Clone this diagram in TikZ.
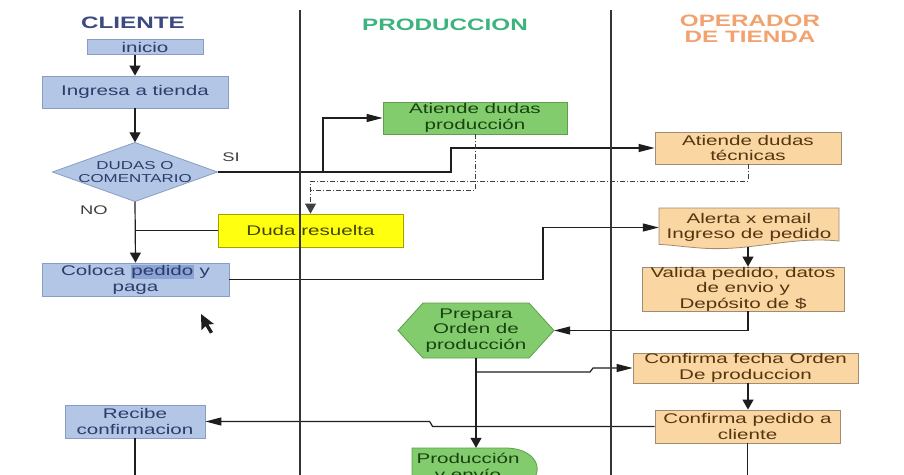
\documentclass[tikz,border=0pt]{standalone}
\usepackage{fontspec}
\setmainfont{Liberation Sans}[FakeStretch=1.47]
\usetikzlibrary{arrows.meta}

\definecolor{bfill}{HTML}{B4C6E6}
\definecolor{bedge}{HTML}{8A9CC4}
\definecolor{btext}{HTML}{2A3D6B}
\definecolor{gfill}{HTML}{82CC6E}
\definecolor{gedge}{HTML}{5E9E4E}
\definecolor{gtext}{HTML}{1A4210}
\definecolor{ofill}{HTML}{FAD6A2}
\definecolor{oedge}{HTML}{A08C72}
\definecolor{otext}{HTML}{553510}
\definecolor{yfill}{HTML}{FFFF10}
\definecolor{yedge}{HTML}{A8A000}
\definecolor{ytext}{HTML}{454500}
\definecolor{selblue}{HTML}{8CA3D6}
\definecolor{hdrblue}{HTML}{3C4A82}
\definecolor{hdrgreen}{HTML}{3DB37E}
\definecolor{hdrorange}{HTML}{F2A26E}
\definecolor{ink}{HTML}{1E1E1E}

\begin{document}
\begin{tikzpicture}[x=1pt,y=-1pt,
  line/.style={draw=ink, line width=1.2pt},
  arrv/.style={line, -{Triangle[length=10pt,width=11pt]}},
  arrh/.style={line, -{Triangle[length=16pt,width=8pt]}},
  dd/.style={draw=ink!85, line width=0.8pt, dash pattern=on 5pt off 2pt on 1pt off 2pt},
  ddarr/.style={dd, -{Triangle[length=10pt,width=11pt]}},
  lane/.style={draw=ink!90, line width=1.2pt},
  box/.style={draw, line width=0.8pt, align=center, inner sep=0pt, font=\fontsize{14}{15.5}\selectfont},
  bluebox/.style={box, fill=bfill, draw=bedge, text=btext},
  greenbox/.style={box, fill=gfill, draw=gedge, text=gtext},
  orangebox/.style={box, fill=ofill, draw=oedge, text=otext},
  yellowbox/.style={box, fill=yfill, draw=yedge, text=ytext},
  bare/.style={align=center, inner sep=0pt, font=\fontsize{14}{15.5}\selectfont},
  header/.style={align=center, inner sep=0pt, font=\fontsize{16.5}{16}\selectfont\bfseries},
  tag/.style={inner sep=0pt, text=ink!85, font=\fontsize{12.5}{13}\selectfont},
]
\useasboundingbox (0,0) rectangle (904,474);
\fill[white] (0,0) rectangle (904,474);
\clip (0,0) rectangle (904,474);

% lane titles
\node[header, text=hdrblue] (hcli) at (133,22.5) {CLIENTE};
\node[header, text=hdrgreen] (hprod) at (445,25) {PRODUCCION};
\node[header, text=hdrorange] (hop) at (750,29) {OPERADOR\\DE TIENDA};

% client lane
\node[bluebox, minimum width=116pt, minimum height=15pt] (ini) at (145,47) {inicio};
\node[bluebox, minimum width=186pt, minimum height=32pt] (ing) at (135,92) {Ingresa a tienda};

\coordinate (dudasc) at (135,172);
\filldraw[fill=bfill, draw=bedge, line width=0.8pt]
  (dudasc) ++(-82.5,0) -- ++(82.5,-29.5) -- ++(82.5,29.5) -- ++(-82.5,29.5) -- cycle;
\node[bare, text=btext, minimum width=165pt, minimum height=59pt,
      font=\fontsize{11.5}{13}\selectfont] (dudas) at (dudasc) {DUDAS O\\COMENTARIO};

\node[tag] (si) at (231,157) {SI};
\node[tag] (no) at (94,210) {NO};

\node[bluebox, minimum width=187pt, minimum height=33pt] (col) at (135.5,279.5)
  {Coloca {\setlength\fboxsep{0.6pt}\colorbox{selblue}{pedido}} y\\paga};
\node[bluebox, minimum width=140pt, minimum height=33pt] (rec) at (135,421.5) {Recibe\\confirmacion};

% production lane
\node[greenbox, minimum width=184pt, minimum height=32pt] (prod1) at (475,118) {Atiende dudas\\producción};
\node[yellowbox, minimum width=185pt, minimum height=33pt] (duda) at (310.5,230.5) {Duda resuelta};

\coordinate (prepc) at (476,330.5);
\filldraw[fill=gfill, draw=gedge, line width=0.8pt]
  (prepc) ++(-78,0) -- ++(25,-27.5) -- ++(106,0) -- ++(25,27.5) -- ++(-25,27.5) -- ++(-106,0) -- cycle;
\node[bare, text=gtext, minimum width=156pt, minimum height=55pt] (prep) at (prepc) {Prepara\\Orden de\\producción};

\filldraw[fill=gfill, draw=gedge, line width=0.8pt]
  (412,448) -- (505,448) .. controls (548,448) and (548,490) .. (505,490) -- (412,490) -- cycle;
\node[bare, text=gtext, minimum width=125pt, minimum height=40pt] (envio) at (468,468) {Producción\\y envío};

% store operator lane
\node[orangebox, minimum width=186pt, minimum height=32pt] (tec) at (748,148) {Atiende dudas\\técnicas};

\filldraw[fill=ofill, draw=oedge, line width=0.8pt]
  (659,208) -- (839,208) -- (839,241) .. controls (790,236) and (750,252) .. (700,248)
  .. controls (680,246.5) and (668,244.5) .. (659,244.5) -- cycle;
\node[bare, text=otext, minimum width=180pt, minimum height=39pt] (alerta) at (749,227.5) {Alerta x email\\Ingreso de pedido};

\node[orangebox, minimum width=202pt, minimum height=44pt] (valida) at (743,289) {Valida pedido, datos\\de envio y\\Depósito de \$};
\node[orangebox, minimum width=225pt, minimum height=30pt] (cf) at (745.5,368) {Confirma fecha Orden\\De produccion};
\node[orangebox, minimum width=185pt, minimum height=33pt] (cp) at (747.5,426.5) {Confirma pedido a\\cliente};

% junction points
\coordinate (j1) at (451,148);
\coordinate (j2) at (323,172);
\coordinate (d1) at (310.5,181);
\coordinate (d2) at (310.5,190);
\coordinate (j3) at (543,227.5);
\coordinate (v1) at (748,330.5);
\coordinate (b1) at (476,372);
\coordinate (bot) at (0,480);

% connectors
\draw[arrv] (ini.south -| ing.north) -- (ing.north);
\draw[arrv] (ing.south) -- (dudas.north);
\draw[arrv] (dudas.south) -- (col.north);
\draw[line] (duda.west) -- (duda.west -| dudas.south);
\draw[arrh] (dudas.east) -| (j1) -- (tec.west);
\draw[arrh] (j2) |- (prod1.west);
\draw[ddarr] (tec.south) |- (d1) -- (duda.north);
\draw[dd] (prod1.south) |- (d2);
\draw[arrh] (col.east) -| (j3) -- (alerta.west);
\draw[arrv] (alerta.south -| v1) -- (valida.north -| v1);
\draw[arrh] (valida.south -| v1) -- (v1) -- (prep.east);
\draw[arrv] (prep.south) -- (prep.south |- envio.north);
\draw[arrh] (b1) -- ++(114,0) -- ++(3,-4) |- (cf.west);
\draw[arrv] (cf.south -| v1) -- (cp.north -| v1);
\draw[arrh] (cp.west) -- ++(-222,0) -- ++(-3,-5) |- (rec.east);
\draw[line] (rec.south) -- (rec.south |- bot);
\draw[line] (cp.south) -- (cp.south |- bot);

% pointer
\fill[ink] (201,314) -- (201.5,330) -- (205.5,326) -- (210,333.5) -- (213,332)
  -- (208.5,324.5) -- (214,324) -- cycle;

% lane dividers
\draw[lane] (300,10) -- (300,480);
\draw[lane] (611,10) -- (611,480);
\end{tikzpicture}
\end{document}
